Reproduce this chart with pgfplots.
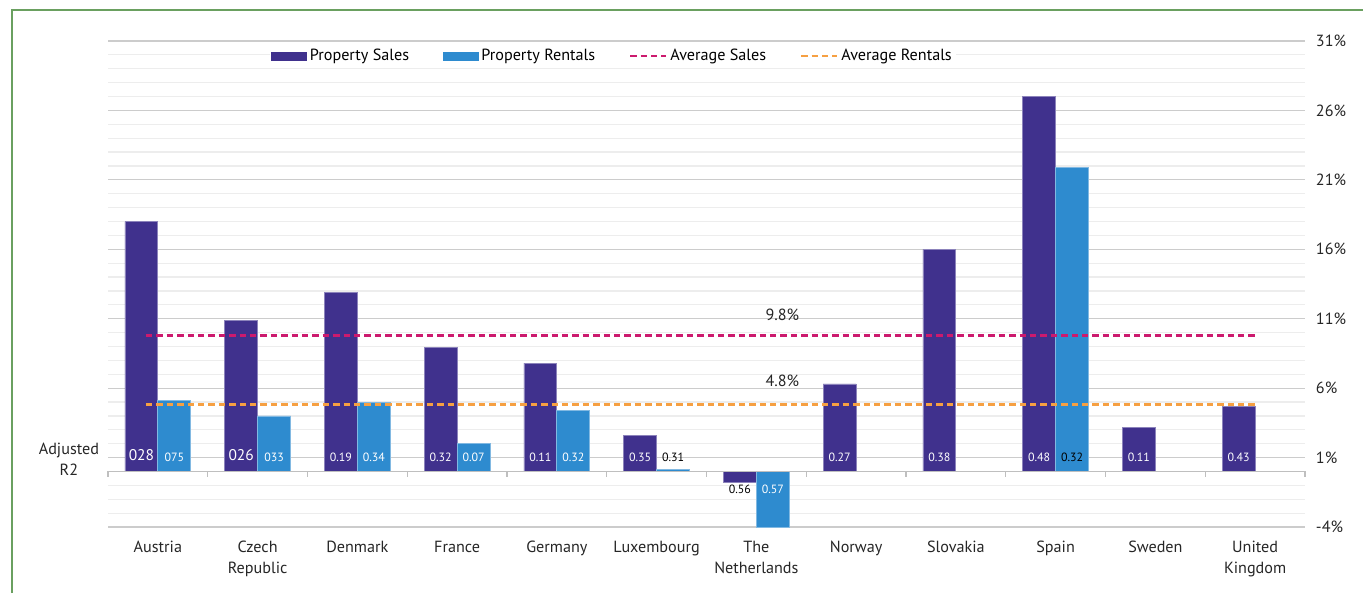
\documentclass[border=0pt]{standalone}
\usepackage{fontspec}
\setmainfont{PT Sans}
\usepackage{pgfplots}
\pgfplotsset{compat=1.18}
\definecolor{sales}{RGB}{64,49,141}
\definecolor{rent}{RGB}{46,139,207}
\definecolor{avgs}{RGB}{204,26,110}
\definecolor{avgr}{RGB}{246,160,66}
\definecolor{framec}{RGB}{106,160,96}
\begin{document}
\begin{tikzpicture}
\useasboundingbox (0,0) rectangle (340.75mm,148.25mm);
\draw[framec, line width=0.4mm] (3mm,0) -- (3mm,145.75mm) -- (340.75mm,145.75mm);
\begin{axis}[
  at={(27mm,16.5mm)}, anchor=south west,
  scale only axis, width=299.25mm, height=121.5mm,
  clip=false,
  xmin=-0.5, xmax=11.5, ymin=-4, ymax=31,
  ytick={-4,1,...,31}, minor ytick={-3,-2,...,30},
  yticklabels={-4\%,1\%,6\%,11\%,16\%,21\%,26\%,31\%},
  yticklabel pos=right,
  yticklabel style={xshift=1.5mm},
  ymajorgrids, yminorgrids,
  major grid style={draw=black!20, line width=0.3mm},
  minor grid style={draw=black!7, line width=0.3mm},
  axis line style={draw=none},
  tick style={draw=none},
  xtick={0,...,11},
  xticklabels={Austria,{Czech\\Republic},Denmark,France,Germany,Luxembourg,{The\\Netherlands},Norway,Slovakia,Spain,Sweden,{United\\Kingdom}},
  xticklabel style={align=center, anchor=north, yshift=-2.3mm},
  ticklabel style={font=\fontsize{11.5pt}{15pt}\selectfont, text=black!85},
  legend style={at={(0.135,0.969)}, anchor=west, legend columns=4, draw=none, fill=white,
    font=\fontsize{11.5pt}{13pt}\selectfont, inner sep=1pt,
    /tikz/every even column/.append style={column sep=7.7mm}},
  legend cell align=left,
]
\addplot[ybar, bar width=0.33, bar shift=-0.165, fill=sales, draw=sales!60!white, line width=0.2mm,
  legend image code/.code={\fill[sales] (0mm,-1mm) rectangle (8.75mm,1mm);}]
  coordinates {(0,18.0) (1,10.9) (2,12.9) (3,8.9) (4,7.8) (5,2.6) (6,-0.8) (7,6.3) (8,16.0) (9,27.0) (10,3.2) (11,4.7)};
\addlegendentry{Property Sales}
\addplot[ybar, bar width=0.33, bar shift=0.165, fill=rent, draw=rent!60!white, line width=0.2mm,
  legend image code/.code={\fill[rent] (0mm,-1mm) rectangle (8.75mm,1mm);}]
  coordinates {(0,5.1) (1,4.0) (2,5.0) (3,2.0) (4,4.4) (5,0.15) (6,-4.0) (9,21.9)};
\addlegendentry{Property Rentals}
\addplot[avgs, line width=0.7mm, dash pattern=on 1.6mm off 1mm,
  legend image code/.code={\draw[avgs, line width=0.7mm, dash pattern=on 1.6mm off 1mm] (0mm,0mm) -- (9mm,0mm);}]
  coordinates {(-0.12,9.8) (11.02,9.8)};
\addlegendentry{Average Sales}
\addplot[avgr, line width=0.7mm, dash pattern=on 1.6mm off 1mm,
  legend image code/.code={\draw[avgr, line width=0.7mm, dash pattern=on 1.6mm off 1mm] (0mm,0mm) -- (9mm,0mm);}]
  coordinates {(-0.12,4.8) (11.02,4.8)};
\addlegendentry{Average Rentals}
\draw[black!25, line width=0.3mm] (axis cs:-0.5,0) -- (axis cs:11.5,0);
\pgfplotsinvokeforeach{-0.5,0.5,1.5,2.5,3.5,4.5,5.5,6.5,7.5,8.5,9.5,10.5,11.5}{
  \draw[black!25, line width=0.3mm] (axis cs:#1,0) -- ([yshift=-1.5mm]axis cs:#1,0);
}
\node[font=\fontsize{11.5pt}{13pt}\selectfont, text=black!85] at (axis cs:6.26,11.3) {9.8\%};
\node[font=\fontsize{11.5pt}{13pt}\selectfont, text=black!85] at (axis cs:6.26,6.5) {4.8\%};
\node[font=\fontsize{11.5pt}{15pt}\selectfont, text=black!85, anchor=east, align=center] at (axis cs:-0.5,0.86) [xshift=-1mm] {Adjusted\\R2};
\tikzset{bl/.style={font=\fontsize{8.5pt}{10pt}\selectfont, text=white},
         bb/.style={font=\fontsize{11pt}{12pt}\selectfont, text=white, inner sep=0pt}}
\node[bb] at (axis cs:-0.165,1.2) {028};
\node[bl] at (axis cs:0.165,1) {075};
\node[bb] at (axis cs:0.835,1.2) {026};
\node[bl] at (axis cs:1.165,1) {033};
\node[bl] at (axis cs:1.835,1) {0.19};
\node[bl] at (axis cs:2.165,1) {0.34};
\node[bl] at (axis cs:2.835,1) {0.32};
\node[bl] at (axis cs:3.165,1) {0.07};
\node[bl] at (axis cs:3.835,1) {0.11};
\node[bl] at (axis cs:4.165,1) {0.32};
\node[bl] at (axis cs:4.835,1) {0.35};
\node[bl, text=black] at (axis cs:5.165,1) {0.31};
\node[bl, text=black] at (axis cs:5.835,-1.3) {0.56};
\node[bl] at (axis cs:6.165,-1.3) {0.57};
\node[bl] at (axis cs:6.835,1) {0.27};
\node[bl] at (axis cs:7.835,1) {0.38};
\node[bl] at (axis cs:8.835,1) {0.48};
\node[bl, text=black] at (axis cs:9.165,1) {0.32};
\node[bl] at (axis cs:9.835,1) {0.11};
\node[bl] at (axis cs:10.835,1) {0.43};
\end{axis}
\end{tikzpicture}
\end{document}
